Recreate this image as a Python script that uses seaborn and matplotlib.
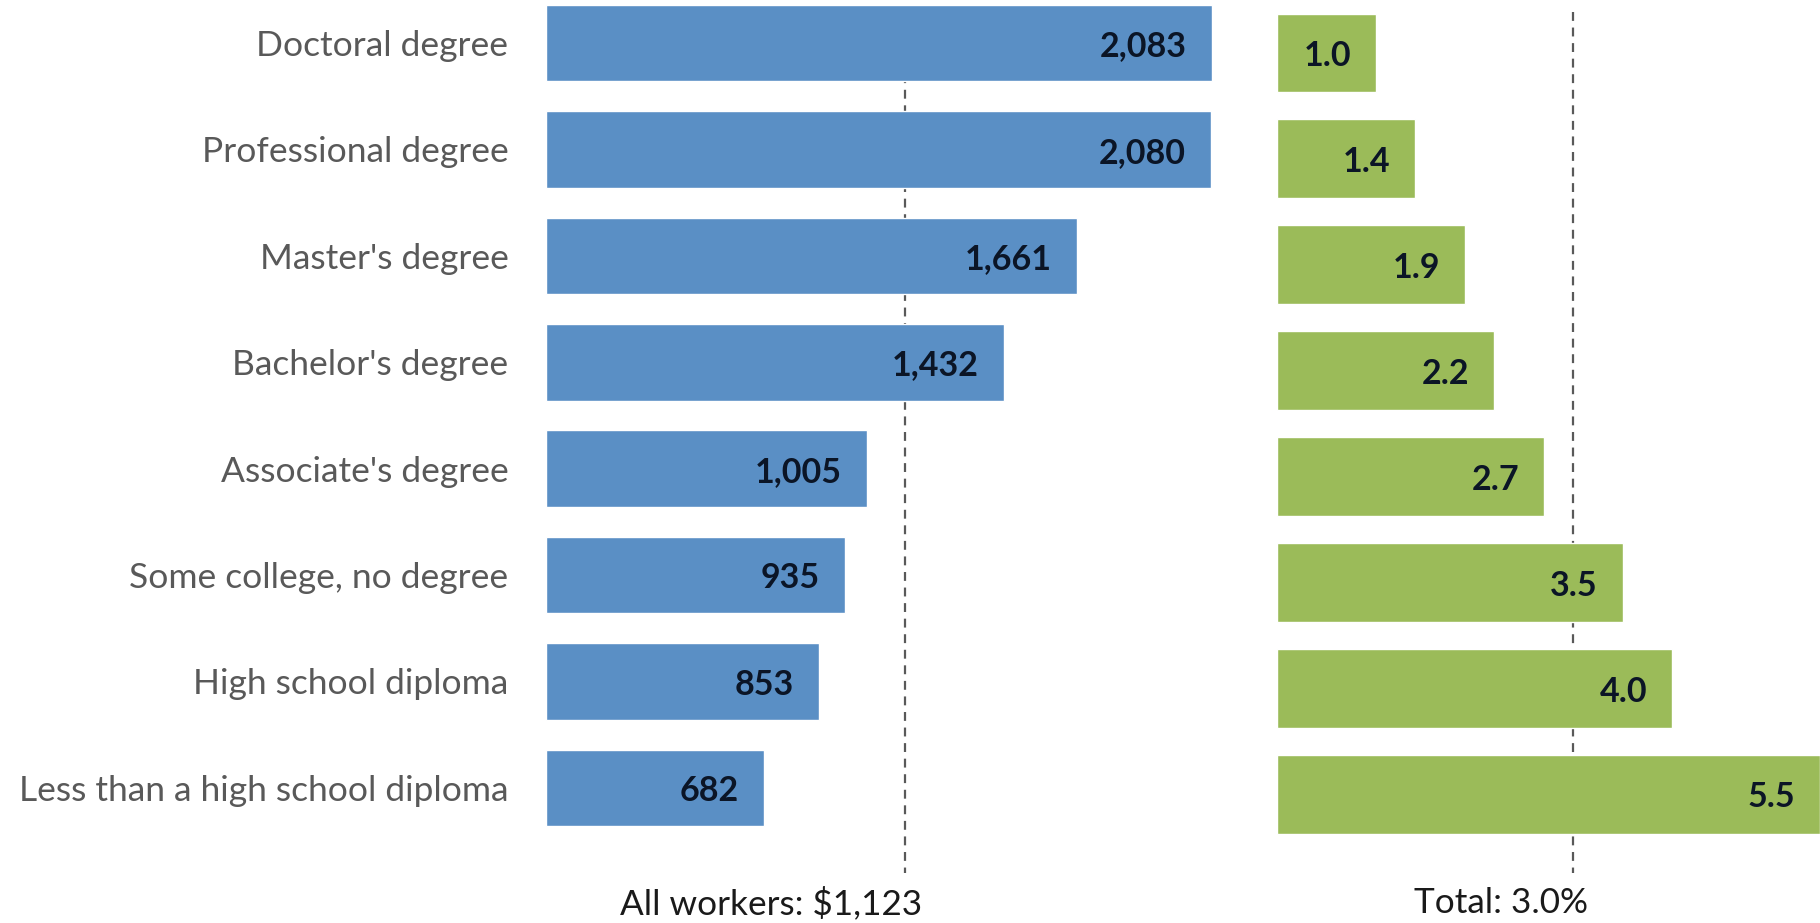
import pandas as pd
import matplotlib
matplotlib.use("Agg")
import matplotlib.pyplot as plt
import seaborn as sns

categories = ["Doctoral degree", "Professional degree", "Master's degree", "Bachelor's degree",
              "Associate's degree", "Some college, no degree", "High school diploma",
              "Less than a high school diploma"]
earnings = [2083, 2080, 1661, 1432, 1005, 935, 853, 682]
unemployment = [1.0, 1.4, 1.9, 2.2, 2.7, 3.5, 4.0, 5.5]
all_workers = 1123
total_rate = 3.0

data = pd.DataFrame({"Education": categories, "Earnings": earnings, "Rate": unemployment})

sns.set_style("white")
plt.rcParams['font.family'] = ['Lato', 'DejaVu Sans']

blue = "#5A8FC5"
green = "#9BBB59"
label_grey = "#595959"
value_col = "#0B1526"

fig = plt.figure(figsize=(18.2, 9.23), dpi=100)
ax1 = fig.add_axes([546 / 1820, 0, 703 / 1820, 1])
ax2 = fig.add_axes([1277 / 1820, 0, 543 / 1820, 1])

# earnings panel
sns.barplot(data=data, x="Earnings", y="Education", color=blue, saturation=1,
            width=0.72, orient="h", ax=ax1, zorder=2)
ax1.set_xlim(0, 2200)
ax1.set_ylim(8.27, -0.404)
ax1.vlines(all_workers, -0.29, 7.8, colors=label_grey, linestyles=(0, (4, 3)),
           linewidth=1.6, zorder=1)
for i, v in enumerate(earnings):
    ax1.text(v - 78, i + 0.03, f"{v:,}", ha="right", va="center", fontsize=24.5,
             fontweight="bold", color=value_col, zorder=3)

# unemployment panel
sns.barplot(data=data, x="Rate", y="Education", color=green, saturation=1,
            width=0.745, orient="h", ax=ax2, zorder=2)
ax2.set_xlim(0, 5.5)
ax2.set_ylim(8.215, -0.50)
ax2.vlines(total_rate, -0.39, 7.74, colors=label_grey, linestyles=(0, (4, 3)),
           linewidth=1.6, zorder=1)
for i, v in enumerate(unemployment):
    ax2.text(v - 0.25, i + 0.03, f"{v:.1f}", ha="right", va="center", fontsize=24.5,
             fontweight="bold", color=value_col, zorder=3)

for ax in (ax1, ax2):
    for s in ax.spines.values():
        s.set_visible(False)
    ax.set_xlabel("")
    ax.set_ylabel("")
    ax.set_xticks([])
    ax.set_facecolor("none")

ax1.tick_params(axis="y", length=0, pad=27, labelsize=25.5, labelcolor=label_grey)
ax2.set_yticks([])

fig.text(771 / 1820, 1 - 903 / 923, f"All workers: ${all_workers:,}", ha="center",
         va="center", fontsize=25.3, color="#1A1A1A")
fig.text(1501 / 1820, 1 - 903 / 923, f"Total: {total_rate:.1f}%", ha="center",
         va="center", fontsize=25.3, color="#1A1A1A")

fig.savefig("out.png", dpi=100)
